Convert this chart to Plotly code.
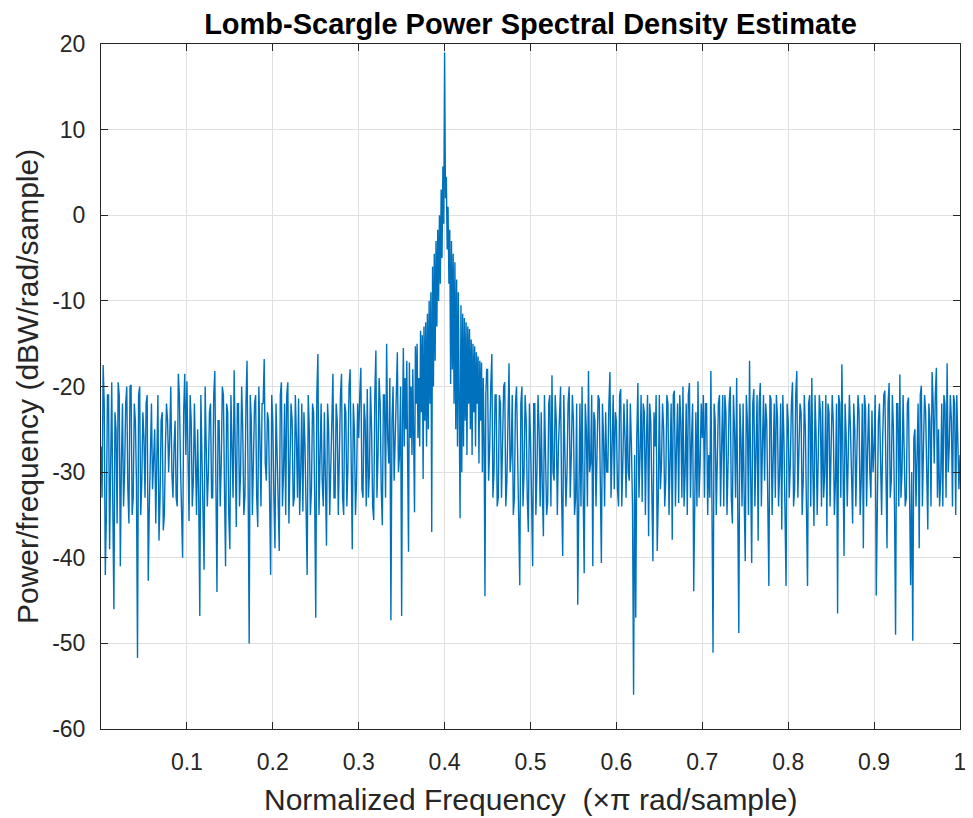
import numpy as np
import plotly.graph_objects as go

# Lomb-Scargle PSD (dB).
# For most segments: *_a = readings on the 0.0025 grid, *_b = readings between them.
psd_000_010_a = [-27, -17.5, -42, -21, -39, -19.5, -46, -25, -19.5, -41, -22, -30, -20, -36, -19.8, -33, -24, -51.7, -20, -31,
                 -26, -22, -42.7, -28, -32, -25, -30, -38, -24, -36.8, -27, -24, -26, -30, -27, -33, -18.5, -29, -40, -18.5]
psd_000_010_b = [-33, -22, -35, -21, -30, -34, -23, -36, -21, -29, -34, -22, -32, -20, -35, -22, -31, -21, -35, -23,
                 -33, -21, -34, -22, -29, -36, -21, -33, -23, -35, -22, -30, -20, -33, -24, -34, -21, -35, -23, -28]
psd_010_020_a = [-19.4, -35.7, -24, -31, -27, -25, -46.8, -28, -41.4, -26, -30, -22, -33, -18.2, -44, -24, -29, -21, -41, -23,
                 -39, -26, -18.1, -36.4, -22, -30, -25, -33, -17, -50, -24, -28, -21, -36.4, -26, -22, -16.8, -31, -24, -42]
psd_010_020_b = [-28, -21, -34, -22, -35, -33, -21, -36, -20, -34, -23, -33, -21, -35, -24, -34, -20, -32, -22, -35,
                 -21, -33, -30, -22, -34, -20, -35, -22, -31, -21, -35, -22, -33, -20, -34, -22, -29, -23, -35, -21]
psd_020_030_a = [-24, -38.9, -27, -39.2, -19.5, -30, -35, -19.5, -28, -24, -33, -26, -21.4, -30, -34.6, -27, -42, -25, -32, -23,
                 -47, -16.2, -27, -31, -23, -38.6, -25, -29, -18.5, -33, -24, -27, -18.5, -35, -23, -29, -18, -39, -25, -31]
psd_020_030_b = [-33, -22, -35, -21, -34, -22, -21, -36, -22, -34, -21, -33, -35, -22, -23, -34, -21, -35, -22, -33,
                 -21, -35, -22, -34, -31, -22, -35, -21, -33, -22, -35, -21, -33, -22, -34, -20, -33, -22, -35, -22]
psd_030_035_a = [-26, -17.8, -33, -24, -20.3, -30, -25, -35.6, -15.8, -28, -22, -36.2, -21, -15, -29, -47.3, -20, -26, -16, -28]
psd_030_035_b = [-21, -32, -22, -34, -33, -20, -34, -21, -33, -19, -32, -21, -33, -26, -19, -24, -31, -19, -30, -20]
psd_035_045 = [-46.8, -24, -15.5, -27, -19, -25, -17, -29, -39.3, -17.2,
               -26, -20, -28, -18, -24, -34.7, -15.3, -22, -15, -26,
               -19, -27, -13.5, -23, -14, -30.8, -13, -24, -12.5, -27,
               -11.5, -25, -10, -22, -9, -37, -6, -20, -4.5, -17,
               -3, -13, -1.7, -10, 0, -8, 3, -5, 5.7, -1,
               19, 2, 4.5, -4, 1, -8, -1.7, -19.7, -3, -18,
               -4.5, -22, -5.5, -25, -7.5, -27, -9, -28, -35.4, -10.5,
               -30, -11.5, -27, -12, -24, -12.5, -28, -13, -22, -13.3,
               -25, -14.5, -28, -15, -23, -15.3, -27, -16, -22, -16.5,
               -29, -17, -24, -17.2, -30, -19, -26, -44.5, -21, -18]
psd_045_050_a = [-18, -27, -16.2, -30, -21, -33, -22, -26, -19.5, -31, -17.3, -28, -35, -22, -27, -43.2, -20, -30, -24, -37]
psd_045_050_b = [-31, -20, -33, -21, -34, -21, -33, -20, -34, -22, -30, -21, -33, -20, -35, -22, -34, -21, -33, -22]
psd_050_060_a = [-26, -41, -22, -30, -25, -23, -37.5, -28, -33.5, -21, -18.7, -31, -24, -27, -20, -39.8, -26, -30, -20, -28,
                 -24, -33, -45.5, -22, -20, -41.8, -25, -18.2, -29, -41, -24, -27, -21.5, -40.6, -26, -23, -30, -18.3, -28, -32]
psd_050_060_b = [-33, -22, -35, -21, -34, -32, -21, -35, -22, -34, -30, -21, -35, -22, -33, -21, -34, -22, -33, -21,
                 -35, -22, -30, -34, -32, -22, -34, -30, -21, -23, -34, -21, -33, -22, -34, -30, -22, -33, -21, -23]
psd_060_070_a = [-24, -34, -20.3, -29, -26, -21.5, -31, -27, -56, -47, -19.6, -28, -33.5, -23, -26, -37.5, -24, -40.4, -27, -39.2,
                 -21, -29, -25, -31, -22, -28, -37.9, -20.5, -27, -33.6, -24, -20, -30, -35, -19.6, -26, -43.9, -23, -19.4, -29]
psd_060_070_b = [-32, -21, -34, -22, -33, -30, -22, -34, -28, -26, -33, -21, -22, -35, -21, -22, -34, -23, -21, -33,
                 -32, -22, -34, -21, -35, -22, -21, -34, -22, -21, -33, -34, -22, -21, -33, -22, -30, -34, -33, -22]
psd_070_080_a = [-26, -33, -22, -28, -18.2, -51.1, -24, -30, -21, -27, -34, -23, -29, -20, -36, -25, -19, -48.8, -26, -22,
                 -40.4, -24, -17, -40.6, -20.3, -29, -38, -19.6, -27, -31, -24, -43.3, -21.5, -28, -33, -23.6, -30, -36.7, -26, -43.3]
psd_070_080_b = [-21, -22, -35, -33, -34, -22, -35, -22, -34, -21, -21, -35, -22, -33, -21, -33, -32, -22, -34, -33,
                 -21, -35, -30, -22, -34, -21, -22, -34, -21, -22, -33, -21, -35, -22, -21, -34, -22, -21, -33, -22]
psd_080_090_a = [-24, -29, -19.5, -32, -18.2, -27, -23, -31, -25, -43.3, -21, -19, -36.3, -26, -29, -23, -21.7, -30, -36.3, -23,
                 -27, -24.3, -31, -46.5, -22, -17.4, -39.8, -26, -29, -25, -36, -25, -28, -23, -31, -38.9, -22.5, -27, -30, -22.8]
psd_080_090_b = [-33, -22, -34, -21, -33, -22, -35, -21, -34, -22, -34, -30, -21, -35, -21, -34, -33, -21, -22, -34,
                 -21, -35, -22, -21, -33, -32, -22, -34, -21, -33, -22, -34, -21, -35, -22, -21, -34, -22, -33, -30]
psd_090_100_a = [-27, -44.4, -24, -29, -26, -20.5, -38.9, -19.6, -31, -25, -49, -22, -18.6, -30, -26, -33, -21.3, -43.2, -49.7, -25,
                 -28, -38.9, -19.9, -27, -23, -36.7, -24, -18.3, -29, -17.8, -25, -31, -34, -22, -17.3, -27, -24, -21, -35, -26, -28]
psd_090_100_b = [-21, -33, -22, -35, -21, -34, -22, -33, -21, -34, -22, -34, -33, -21, -34, -22, -34, -30, -26, -34,
                 -22, -21, -34, -21, -33, -22, -34, -22, -21, -33, -34, -22, -21, -33, -30, -21, -34, -22, -21, -32]


def merge(a, b):
    out = []
    for i in range(len(b)):
        out += [a[i], b[i]]
    out += a[len(b):]
    return out


# (start, stop, values) for each frequency segment; last segment includes 1.0
segments = [(0.00, 0.10, merge(psd_000_010_a, psd_000_010_b)),
            (0.10, 0.20, merge(psd_010_020_a, psd_010_020_b)),
            (0.20, 0.30, merge(psd_020_030_a, psd_020_030_b)),
            (0.30, 0.35, merge(psd_030_035_a, psd_030_035_b)),
            (0.35, 0.45, psd_035_045),
            (0.45, 0.50, merge(psd_045_050_a, psd_045_050_b)),
            (0.50, 0.60, merge(psd_050_060_a, psd_050_060_b)),
            (0.60, 0.70, merge(psd_060_070_a, psd_060_070_b)),
            (0.70, 0.80, merge(psd_070_080_a, psd_070_080_b)),
            (0.80, 0.90, merge(psd_080_090_a, psd_080_090_b)),
            (0.90, 1.00, merge(psd_090_100_a, psd_090_100_b))]

freq, psd_db = [], []
for start, stop, vals in segments:
    n = len(vals)
    if stop >= 1.0:
        f = np.linspace(start, stop, n)
    else:
        f = np.linspace(start, stop, n, endpoint=False)
    freq.extend(f.tolist())
    psd_db.extend(vals)

x_tick_vals = [0.1, 0.2, 0.3, 0.4, 0.5, 0.6, 0.7, 0.8, 0.9, 1.0]
x_tick_text = ["0.1", "0.2", "0.3", "0.4", "0.5", "0.6", "0.7", "0.8", "0.9", "1"]
y_tick_vals = [-60, -50, -40, -30, -20, -10, 0, 10, 20]
y_tick_text = ["-60", "-50", "-40", "-30", "-20", "-10", "0", "10", "20"]

title_text = "Lomb-Scargle Power Spectral Density Estimate"
x_label = "Normalized Frequency  (\u00d7\u03c0 rad/sample)"
y_label = "Power/frequency (dBW/rad/sample)"

FONT = "Liberation Sans, Arial, Helvetica, sans-serif"
AX = "#262626"
GRID = "#dfdfdf"

# page has an 8px body margin, so the figure is 8px smaller than the window
W, H = 965, 810
L, R, T, B = 93, 7, 36, 89

fig = go.Figure()
fig.add_trace(go.Scatter(x=freq, y=psd_db, mode="lines",
                         line=dict(color="#0072BD", width=1.4),
                         hoverinfo="x+y", showlegend=False))

axis_common = dict(showline=True, linecolor=AX, linewidth=1, mirror="ticks",
                   ticks="inside", ticklen=7, tickwidth=1, tickcolor=AX,
                   showgrid=True, gridcolor=GRID, gridwidth=1, zeroline=False,
                   tickfont=dict(family=FONT, size=23, color=AX))

plot_w = W - L - R
plot_h = H - T - B
fig.update_layout(
    width=W, height=H,
    margin=dict(l=L, r=R, t=T, b=B),
    paper_bgcolor="white", plot_bgcolor="white",
    title=dict(text="<b>" + title_text + "</b>", x=0.5, xref="paper",
               y=1 - 16 / H, yref="container", xanchor="center", yanchor="middle",
               font=dict(family=FONT, size=29, color="black")),
    xaxis=dict(range=[0, 1], tickvals=x_tick_vals, ticktext=x_tick_text,
               ticklabelstandoff=12, **axis_common),
    yaxis=dict(range=[-60, 20], tickvals=y_tick_vals, ticktext=y_tick_text,
               ticklabelstandoff=10, **axis_common),
    annotations=[
        dict(text=x_label, x=0.5, y=-70 / plot_h, xref="paper", yref="paper",
             xanchor="center", yanchor="middle", showarrow=False,
             font=dict(family=FONT, size=30, color=AX)),
        dict(text=y_label, x=-(L - 19) / plot_w, y=0.5, xref="paper", yref="paper",
             xanchor="center", yanchor="middle", textangle=-90, showarrow=False,
             font=dict(family=FONT, size=30, color=AX)),
    ],
)

fig.write_html("out.html")
